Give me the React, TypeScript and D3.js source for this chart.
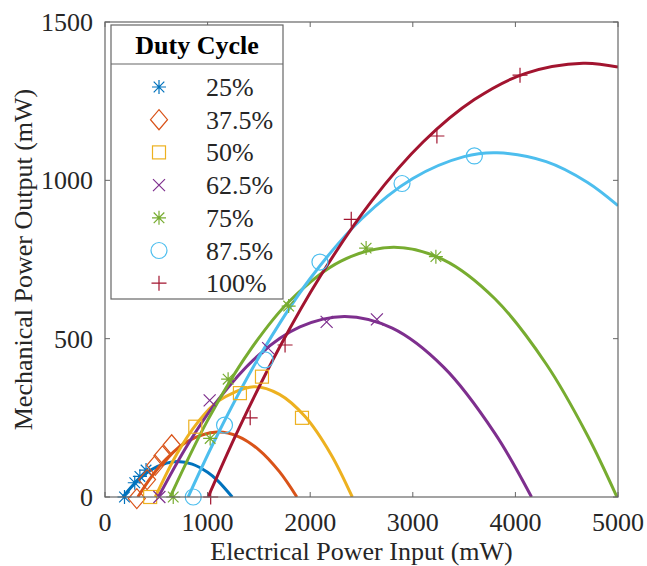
import React from 'react';
import * as d3 from 'd3';

// duty cycle labels and colours (MATLAB default order)
const dutyCycles = ['25%', '37.5%', '50%', '62.5%', '75%', '87.5%', '100%'];
const colors = ['#0072BD', '#D95319', '#EDB120', '#7E2F8E', '#77AC30', '#4DBEEE', '#A2142F'];
const markerTypes = ['star', 'diamond', 'square', 'x', 'star', 'circle', 'plus'];

// measured points [electrical input mW, mechanical output mW]
const meas25 = [[190, 0], [290, 45], [340, 65], [400, 85]];
const meas375 = [[310, -5], [410, 55], [490, 100], [560, 130], [650, 165]];
const meas50 = [[440, 0], [880, 222], [1315, 328], [1530, 380], [1920, 250]];
const meas625 = [[530, 0], [1020, 305], [1590, 470], [2160, 553], [2650, 561]];
const meas75 = [[665, 0], [1025, 185], [1200, 372], [1790, 603], [2545, 786], [3225, 759]];
const meas875 = [[860, 0], [1165, 227], [1560, 433], [2095, 742], [2895, 990], [3600, 1077]];
const meas100 = [[1030, 0], [1415, 250], [1755, 480], [2400, 877], [3235, 1140], [4045, 1332]];

// fitted curves
const fit25 = [[175, 0], [300, 46], [450, 86], [600, 107], [707, 112], [850, 104], [1000, 78], [1100, 51], [1240, 0]];
const fit375 = [[320, 0], [450, 63], [600, 121], [800, 175], [1095, 205], [1300, 191], [1500, 149], [1700, 80], [1870, 0]];
const fit50 = [[490, 0], [700, 136], [900, 234], [1100, 302], [1450, 348], [1700, 324], [1950, 254], [2200, 136], [2410, 0]];
const fit625 = [[520, 0], [800, 162], [1100, 306], [1500, 449], [1900, 537], [2338, 570], [2800, 533], [3300, 410], [3800, 201], [4157, 0]];
const fit75 = [[635, 0], [1000, 242], [1400, 457], [1800, 619], [2300, 745], [2812, 789], [3300, 749], [3800, 626], [4300, 420], [4700, 196], [4990, 0]];
const fit875 = [[810, 0], [1100, 199], [1500, 441], [2000, 690], [2500, 878], [3000, 1006], [3500, 1075], [3820, 1087], [4300, 1059], [4700, 994], [5000, 920]];
const fit100 = [[1005, 0], [1300, 213], [1700, 472], [2100, 698], [2600, 935], [3100, 1121], [3600, 1255], [4100, 1338], [4660, 1370], [5000, 1358]];

const measured = [meas25, meas375, meas50, meas625, meas75, meas875, meas100];
const fits = [fit25, fit375, fit50, fit625, fit75, fit875, fit100];

const xTicks = [0, 1000, 2000, 3000, 4000, 5000];
const yTicks = [0, 500, 1000, 1500];

const W = 647;
const H = 566;
const left = 105, right = 618, top = 22, bottom = 497;
const font = '"Liberation Serif", "Times New Roman", serif';
const axisColor = '#666';
const textColor = '#262626';

const Marker = ({ type, x, y, color }: { type: string; x: number; y: number; color: string }) => {
  const s = 7;
  const common = { stroke: color, strokeWidth: 1.2, fill: 'none' };
  if (type === 'circle') return <circle cx={x} cy={y} r={8} {...common} />;
  if (type === 'square') return <rect x={x - 6.5} y={y - 6.5} width={13} height={13} {...common} />;
  if (type === 'diamond')
    return <path d={`M${x},${y - 10}L${x + 8.5},${y}L${x},${y + 10}L${x - 8.5},${y}Z`} {...common} />;
  if (type === 'plus')
    return <path d={`M${x - 7.5},${y}H${x + 7.5}M${x},${y - 7.5}V${y + 7.5}`} {...common} />;
  if (type === 'x')
    return <path d={`M${x - 6},${y - 6}L${x + 6},${y + 6}M${x - 6},${y + 6}L${x + 6},${y - 6}`} {...common} />;
  // star: plus and x together
  const d = 5.3;
  return (
    <path
      d={`M${x - s},${y}H${x + s}M${x},${y - s}V${y + s}M${x - d},${y - d}L${x + d},${y + d}M${x - d},${y + d}L${x + d},${y - d}`}
      {...common}
    />
  );
};

const App = () => {
  const xScale = d3.scaleLinear().domain([0, 5000]).range([left, right]);
  const yScale = d3.scaleLinear().domain([0, 1500]).range([bottom, top]);

  const line = d3
    .line<number[]>()
    .x(d => xScale(d[0]))
    .y(d => yScale(d[1]))
    .curve(d3.curveCatmullRom);

  const tick = 5;
  const legendRow = (i: number) => 87 + i * 32.7;

  return (
    <svg width={W} height={H} style={{ position: 'absolute', left: 0, top: 0, background: '#fff' }}>
      <defs>
        <clipPath id="plotArea">
          <rect x={left} y={top} width={right - left} height={bottom - top} />
        </clipPath>
      </defs>

      {/* fitted curves */}
      <g clipPath="url(#plotArea)">
        {fits.map((f, i) => (
          <path key={i} d={line(f) || ''} fill="none" stroke={colors[i]} strokeWidth={3} />
        ))}
      </g>

      {/* measured markers */}
      <g>
        {measured.map((m, i) =>
          m.map((p, j) => (
            <Marker key={`${i}-${j}`} type={markerTypes[i]} x={xScale(p[0])} y={yScale(p[1])} color={colors[i]} />
          ))
        )}
      </g>

      {/* axes box and ticks */}
      <rect x={left} y={top} width={right - left} height={bottom - top} fill="none" stroke={axisColor} strokeWidth={1.2} />
      {xTicks.map(t => (
        <g key={`x${t}`}>
          <line x1={xScale(t)} x2={xScale(t)} y1={bottom} y2={bottom - tick} stroke={axisColor} />
          <line x1={xScale(t)} x2={xScale(t)} y1={top} y2={top + tick} stroke={axisColor} />
          <text x={xScale(t)} y={bottom + 34} textAnchor="middle" fontFamily={font} fontSize={26} fill={textColor}>
            {t}
          </text>
        </g>
      ))}
      {yTicks.map(t => (
        <g key={`y${t}`}>
          <line x1={left} x2={left + tick} y1={yScale(t)} y2={yScale(t)} stroke={axisColor} />
          <line x1={right} x2={right - tick} y1={yScale(t)} y2={yScale(t)} stroke={axisColor} />
          <text x={left - 12} y={yScale(t) + 9} textAnchor="end" fontFamily={font} fontSize={26} fill={textColor}>
            {t}
          </text>
        </g>
      ))}

      {/* axis labels */}
      <text x={(left + right) / 2} y={560} textAnchor="middle" fontFamily={font} fontSize={26} fill={textColor}>
        Electrical Power Input (mW)
      </text>
      <text
        transform={`translate(32, ${(top + bottom) / 2}) rotate(-90)`}
        textAnchor="middle"
        fontFamily={font}
        fontSize={26}
        fill={textColor}
      >
        Mechanical Power Output (mW)
      </text>

      {/* legend */}
      <g>
        <rect x={111} y={25} width={172} height={274} fill="#fff" stroke={axisColor} strokeWidth={1.2} />
        <line x1={111} x2={283} y1={64} y2={64} stroke={axisColor} strokeWidth={1.2} />
        <text x={197} y={54} textAnchor="middle" fontFamily={font} fontSize={26} fontWeight="bold" fill="#000">
          Duty Cycle
        </text>
        {dutyCycles.map((dc, i) => (
          <g key={dc}>
            <Marker type={markerTypes[i]} x={159} y={legendRow(i)} color={colors[i]} />
            <text x={206} y={legendRow(i) + 9} fontFamily={font} fontSize={26} fill={textColor}>
              {dc}
            </text>
          </g>
        ))}
      </g>
    </svg>
  );
};

export default App;
